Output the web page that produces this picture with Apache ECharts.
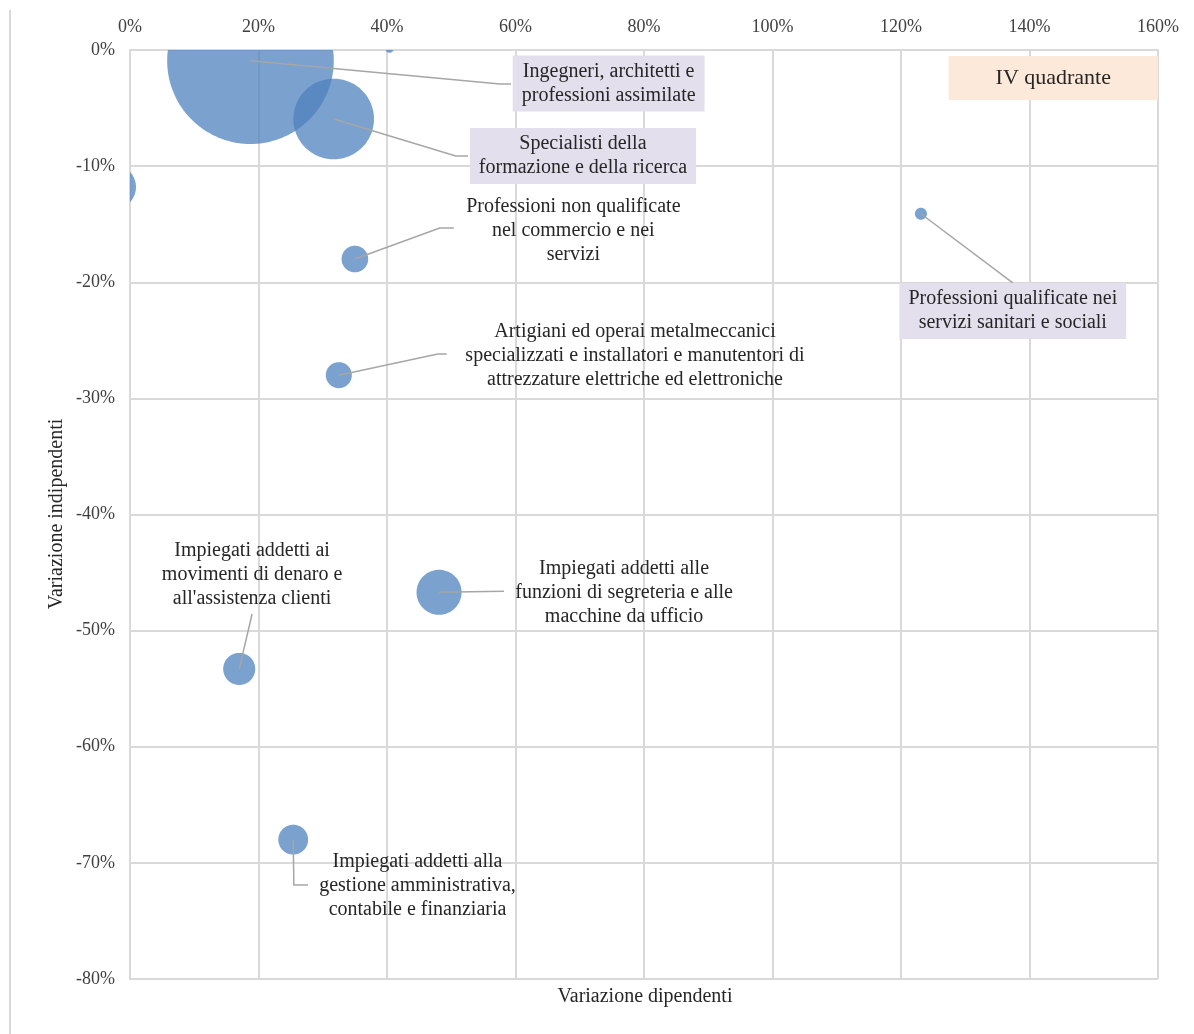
<!DOCTYPE html>
<html>
<head>
<meta charset="utf-8">
<title>Variazione dipendenti / indipendenti</title>
<script src="https://cdn.jsdelivr.net/npm/echarts@6/dist/echarts.min.js"></script>
<style>
  html, body { margin: 0; padding: 0; background: #fff; }
  #main { width: 1194px; height: 1034px; }
</style>
</head>
<body>
<div id="main"></div>
<script>
// dati (valori in %)
var names = [
  'Ingegneri, architetti e\nprofessioni assimilate',
  'Specialisti della\nformazione e della ricerca',
  '',
  '',
  'Professioni non qualificate\nnel commercio e nei\nservizi',
  'Artigiani ed operai metalmeccanici\nspecializzati e installatori e manutentori di\nattrezzature elettriche ed elettroniche',
  'Impiegati addetti alle\nfunzioni di segreteria e alle\nmacchine da ufficio',
  "Impiegati addetti ai\nmovimenti di denaro e\nall'assistenza clienti",
  'Impiegati addetti alla\ngestione amministrativa,\ncontabile e finanziaria',
  'Professioni qualificate nei\nservizi sanitari e sociali'
];
var varDipendenti   = [18.75, 31.7, -2.5, 40.4, 35.0, 32.5, 48.1, 17.0, 25.4, 123.1];
var varIndipendenti = [-0.92, -5.94, -11.8, 0.1, -18.0, -28.0, -46.7, -53.3, -68.0, -14.1];
var bubbleSize      = [100, 23.4, 7.0, 0.23, 2.55, 2.44, 7.3, 3.7, 3.2, 0.52];

var xMin = 0, xMax = 160, xStep = 20;
var yMin = -80, yMax = 0, yStep = 10;

// posizione etichette e linee guida (coordinate dati)
var labelLayout = {
  0: { at: [74.5, -2.88],  leader: [[57.6, -2.93], [59.3, -2.93]], box: true },
  1: { at: [70.5, -9.13],  leader: [[50.7, -9.13], [52.6, -9.13]], box: true },
  4: { at: [69.0, -15.55], leader: [[48.2, -15.33], [50.4, -15.33]] },
  5: { at: [78.6, -26.35], leader: [[47.9, -26.18], [49.3, -26.18]] },
  6: { at: [76.9, -46.75], leader: [[58.2, -46.6]] },
  7: { at: [19.0, -45.15], leader: [[19.0, -48.57]] },
  8: { at: [44.75, -72.0], leader: [[25.5, -71.9], [27.7, -71.9]] },
  9: { at: [137.4, -22.48], leader: [[137.4, -20.06]], box: true }
};
var quadrante = { text: 'IV quadrante', at: [143.7, -2.41] };

var maxRadius = 83.3;
var serif = '"Liberation Serif", "DejaVu Serif", serif';

var bubbles = varDipendenti.map(function (x, i) {
  return [x, varIndipendenti[i], bubbleSize[i]];
});
var labelled = Object.keys(labelLayout).map(function (k) {
  var i = +k;
  return [varDipendenti[i], varIndipendenti[i], i];
});

var chart = echarts.init(document.getElementById('main'));

chart.setOption({
  animation: false,
  backgroundColor: '#fff',
  grid: { left: 130, right: 36, top: 50, bottom: 55 },
  xAxis: {
    type: 'value',
    position: 'top',
    min: xMin, max: xMax, interval: xStep,
    axisLine: { show: true, onZero: false, lineStyle: { color: '#d9d9d9', width: 2 } },
    axisTick: { show: false },
    axisLabel: { formatter: '{value}%', color: '#404040', fontFamily: serif, fontSize: 18, margin: 14 },
    splitLine: { show: true, lineStyle: { color: '#d9d9d9', width: 2 } }
  },
  yAxis: {
    type: 'value',
    min: yMin, max: yMax, interval: yStep,
    axisLine: { show: true, onZero: false, lineStyle: { color: '#d9d9d9', width: 2 } },
    axisTick: { show: false },
    axisLabel: { formatter: '{value}%', color: '#404040', fontFamily: serif, fontSize: 18, margin: 15 },
    splitLine: { show: true, lineStyle: { color: '#d9d9d9', width: 2 } }
  },
  graphic: [
    { type: 'line', shape: { x1: 10, y1: 10, x2: 10, y2: 1034 }, style: { stroke: '#d9d9d9', lineWidth: 2 } },
    {
      type: 'text', x: 645, y: 997,
      style: { text: 'Variazione dipendenti', align: 'center', verticalAlign: 'middle',
               fontFamily: serif, fontSize: 20, fill: '#262626' }
    },
    {
      type: 'text', x: 57, y: 514, rotation: Math.PI / 2,
      style: { text: 'Variazione indipendenti', align: 'center', verticalAlign: 'middle',
               fontFamily: serif, fontSize: 20, fill: '#262626' }
    }
  ],
  series: [
    {
      // bolle: poligono circolare ritagliato sull'area del grafico
      type: 'custom',
      coordinateSystem: 'cartesian2d',
      data: bubbles,
      renderItem: function (params, api) {
        var c = api.coord([api.value(0), api.value(1)]);
        var r = maxRadius * Math.sqrt(api.value(2) / 100);
        var cs = params.coordSys;
        var pts = [];
        var n = 160;
        for (var k = 0; k < n; k++) {
          var a = 2 * Math.PI * k / n;
          var px = c[0] + r * Math.cos(a), py = c[1] + r * Math.sin(a);
          px = Math.max(cs.x, Math.min(cs.x + cs.width, px));
          py = Math.max(cs.y, Math.min(cs.y + cs.height, py));
          pts.push([px, py]);
        }
        return {
          type: 'polygon',
          shape: { points: pts },
          style: { fill: 'rgba(79,129,189,0.75)' }
        };
      },
      z: 2
    },
    {
      // etichette con linee guida
      type: 'custom',
      coordinateSystem: 'cartesian2d',
      data: labelled,
      renderItem: function (params, api) {
        var i = api.value(2);
        var lay = labelLayout[i];
        var pts = [api.coord([varDipendenti[i], varIndipendenti[i]])];
        lay.leader.forEach(function (p) { pts.push(api.coord(p)); });
        var t = api.coord(lay.at);
        var textStyle = {
          text: names[i], x: t[0], y: t[1],
          align: 'center', verticalAlign: 'middle',
          fontFamily: serif, fontSize: 20, lineHeight: 24, fill: '#262626'
        };
        if (lay.box) {
          textStyle.backgroundColor = '#e4dfec';
          textStyle.padding = [4, 9, 4, 9];
        }
        return {
          type: 'group',
          children: [
            { type: 'polyline', shape: { points: pts }, style: { stroke: '#a6a6a6', lineWidth: 1.5, fill: null } },
            { type: 'text', style: textStyle }
          ]
        };
      },
      z: 3
    },
    {
      type: 'custom',
      coordinateSystem: 'cartesian2d',
      data: [quadrante.at],
      renderItem: function (params, api) {
        var t = api.coord([api.value(0), api.value(1)]);
        return {
          type: 'text',
          style: {
            text: quadrante.text, x: t[0], y: t[1],
            align: 'center', verticalAlign: 'middle',
            fontFamily: serif, fontSize: 22, fill: '#262626',
            backgroundColor: '#fde9d9', padding: [11, 47, 11, 47]
          }
        };
      },
      z: 3
    }
  ]
});
</script>
</body>
</html>
